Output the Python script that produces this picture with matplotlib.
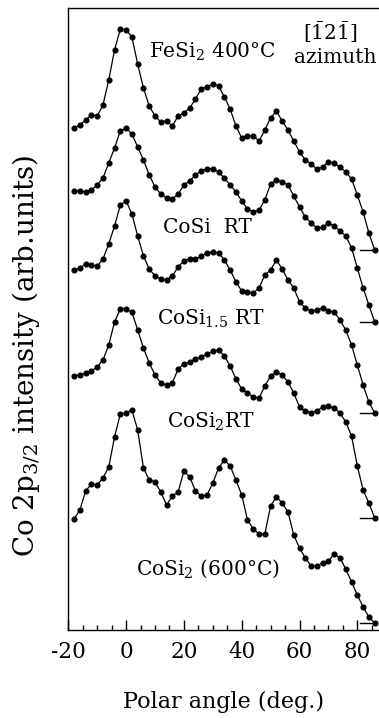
import matplotlib.pyplot as plt
from matplotlib.ticker import MultipleLocator

plt.rcParams["font.family"] = ["DejaVu Serif"]
plt.rcParams["mathtext.fontset"] = "dejavuserif"
plt.rcParams["axes.unicode_minus"] = False

# polar angles (deg), same sampling for every curve
angles = [-18, -16, -14, -12, -10, -8, -6, -4, -2, 0, 2, 4, 6, 8, 10, 12, 14, 16,
          18, 20, 22, 24, 26, 28, 30, 32, 34, 36, 38, 40, 42, 44, 46, 48, 50, 52,
          54, 56, 58, 60, 62, 64, 66, 68, 70, 72, 74, 76, 78, 80, 82, 84, 86]

# intensities above each curve's own baseline (arb. units)
fesi2_400 = [122, 125, 130, 135, 134, 145, 170, 200, 221, 220, 213, 186, 162, 144,
             134, 128, 129, 124, 134, 137, 142, 151, 161, 163, 166, 164, 153, 141,
             124, 112, 114, 114, 109, 120, 132, 139, 129, 120, 109, 98, 90, 86, 81,
             83, 88, 87, 83, 78, 71, 55, 38, 17, 0]
cosi_rt = [131, 131, 130, 132, 137, 144, 159, 174, 191, 194, 188, 175, 162, 147,
           135, 128, 124, 123, 128, 137, 141, 147, 151, 153, 153, 150, 144, 137,
           130, 121, 113, 110, 112, 122, 138, 142, 140, 137, 126, 115, 105, 99, 94,
           95, 99, 96, 91, 86, 74, 54, 34, 17, 0]
cosi15_rt = [143, 145, 149, 148, 147, 154, 169, 187, 208, 212, 199, 177, 157, 144,
             137, 134, 133, 137, 146, 152, 154, 154, 157, 160, 161, 160, 153, 143,
             131, 122, 121, 120, 125, 138, 143, 153, 144, 133, 125, 111, 105, 102,
             103, 105, 102, 101, 93, 83, 68, 48, 28, 11, 0]
cosi2_rt = [142, 143, 145, 147, 151, 158, 173, 196, 209, 209, 206, 188, 170, 155,
            143, 135, 133, 135, 149, 154, 156, 159, 161, 164, 167, 168, 162, 152,
            139, 129, 125, 121, 120, 132, 142, 146, 143, 136, 125, 111, 107, 105,
            107, 111, 112, 110, 105, 96, 82, 52, 28, 15, 0]
cosi2_600 = [104, 113, 132, 139, 138, 145, 156, 186, 209, 210, 213, 193, 155, 143,
             141, 131, 118, 127, 131, 152, 146, 132, 127, 128, 140, 155, 163, 157,
             143, 128, 103, 94, 89, 89, 117, 126, 120, 111, 88, 75, 65, 57, 57, 60,
             62, 69, 65, 54, 41, 28, 16, 6, 0]

curves = [fesi2_400, cosi_rt, cosi15_rt, cosi2_rt, cosi2_600]
offsets = [380, 308, 217, 112, 7]
labels = [r"FeSi$_2$ 400°C", "CoSi  RT", r"CoSi$_{1.5}$ RT",
          r"CoSi$_2$RT", r"CoSi$_2$ (600°C)"]
label_pos = [(7.9, 572), (12.8, 397), (10.7, 305), (14.2, 202), (3.4, 55)]

fig = plt.figure(figsize=(3.79, 7.18), dpi=100)
ax = fig.add_axes([0.1802, 0.1226, 0.8198, 0.8663])

for vals, off in zip(curves, offsets):
    ax.plot(angles, [v + off for v in vals], color="black", lw=0.9,
            marker="o", ms=3.4, clip_on=False)
    ax.plot([81, 86], [off, off], color="black", lw=1.0)

for text, (x, y) in zip(labels, label_pos):
    ax.text(x, y, text, fontsize=14.5, ha="left", va="baseline")

ax.text(70.5, 590, r"[$\bar{1}$2$\bar{1}$]", fontsize=14.5, ha="center", va="baseline")
ax.text(72.3, 567, "azimuth", fontsize=14.5, ha="center", va="baseline")

ax.set_xlim(-20, 87.5)
ax.set_ylim(0, 622)
ax.set_yticks([])
ax.spines["right"].set_visible(False)
for s in ["left", "top", "bottom"]:
    ax.spines[s].set_linewidth(1.0)

ax.xaxis.set_major_locator(MultipleLocator(20))
ax.xaxis.set_minor_locator(MultipleLocator(5))
ax.tick_params(axis="x", which="major", direction="in", length=7, width=1,
               labelsize=15.5, pad=8)
ax.tick_params(axis="x", which="minor", direction="in", length=3.5, width=1)
ax.set_xticks([-20, 0, 20, 40, 60, 80])

ax.set_xlabel("Polar angle (deg.)", fontsize=16, labelpad=20)
ax.set_ylabel(r"Co 2p$_{3/2}$ intensity (arb.units)", fontsize=20)
ax.yaxis.set_label_coords(-0.085, 0.44)

fig.savefig("out.png", dpi=100)
